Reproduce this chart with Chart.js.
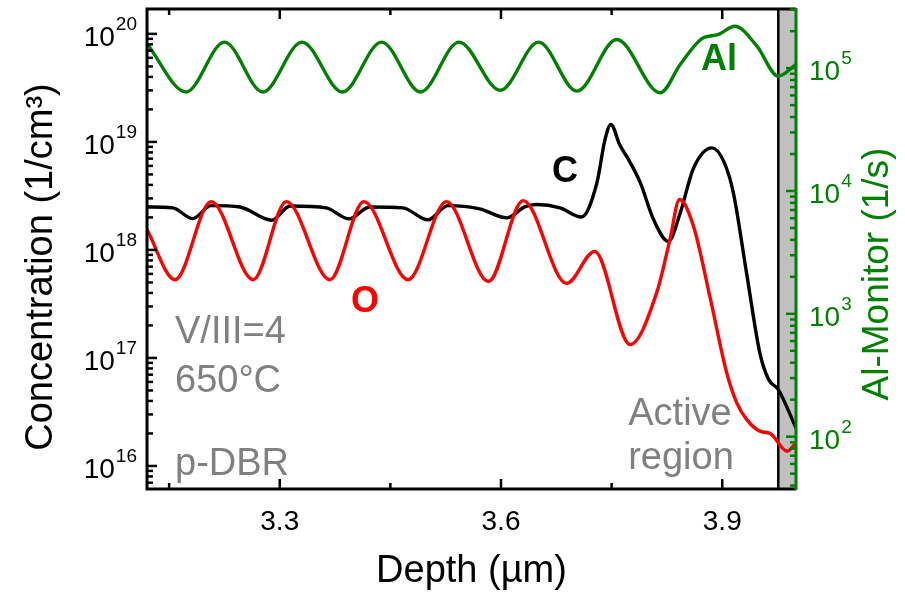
<!DOCTYPE html>
<html lang="en">
<head>
<meta charset="UTF-8">
<title>SIMS depth profile p-DBR</title>
<script src="https://cdn.jsdelivr.net/npm/chart.js@4"></script>
<style>
  body { margin: 0; background: #fff; }
  canvas { display: block; }
</style>
</head>
<body>
<canvas id="sims" width="905" height="592"></canvas>
<script>
const FONT = '"Liberation Sans", Arial, sans-serif';
const GREEN = '#008000';
const GRAY = '#808080';

// depth in µm
const alDepth = [3.12, 3.173, 3.225, 3.277, 3.330, 3.385, 3.438, 3.491, 3.543, 3.599, 3.651, 3.703,
                 3.757, 3.816, 3.843, 3.872, 3.895, 3.917, 3.947, 3.976, 4.0];
const alCounts = [1.58e5, 6.4e4, 1.63e5, 6.4e4, 1.63e5, 6.4e4, 1.63e5, 6.4e4, 1.63e5, 6.6e4, 1.63e5, 6.5e4,
                  1.71e5, 6.3e4, 1.07e5, 1.73e5, 1.88e5, 2.19e5, 1.51e5, 8.6e4, 1.07e5];

const cDepth = [3.12, 3.155, 3.182, 3.207, 3.246, 3.289, 3.314, 3.363, 3.394, 3.422, 3.467, 3.501,
                3.528, 3.571, 3.608, 3.632, 3.648, 3.680, 3.709, 3.730, 3.741, 3.749, 3.761, 3.773,
                3.789, 3.807, 3.827, 3.843, 3.861, 3.886, 3.902, 3.915, 3.933, 3.951, 3.963, 3.976, 4.0];
const cConc = [2.5e18, 2.45e18, 1.95e18, 2.57e18, 2.5e18, 1.88e18, 2.55e18, 2.45e18, 1.94e18, 2.5e18, 2.45e18, 1.9e18,
               2.57e18, 2.4e18, 1.98e18, 2.5e18, 2.63e18, 2.45e18, 2.02e18, 4.17e18, 1.05e19, 1.45e19, 9.4e18, 6.85e18,
               4.17e18, 1.9e18, 1.2e18, 2.2e18, 5.7e18, 8.8e18, 6.6e18, 3.4e18, 6.1e17, 1.11e17, 6.3e16, 5.1e16, 2.25e16];

const oDepth = [3.12, 3.158, 3.207, 3.264, 3.309, 3.368, 3.414, 3.474, 3.526, 3.583, 3.630, 3.689,
                3.727, 3.775, 3.811, 3.829, 3.842, 3.861, 3.884, 3.906, 3.920, 3.933, 3.951, 3.965,
                3.988, 4.0];
const oConc = [1.54e18, 5.3e17, 2.8e18, 5.3e17, 2.8e18, 5.3e17, 2.8e18, 5.3e17, 2.8e18, 5.1e17, 2.86e18, 4.9e17,
               9.7e17, 1.33e17, 4.0e17, 1.24e18, 2.93e18, 1.66e18, 3.5e17, 7.3e16, 3.8e16, 2.7e16, 2.1e16, 2.0e16,
               1.37e16, 1.63e16];

const xTicks = [3.3, 3.6, 3.9];
const xMinorTicks = [3.15, 3.45, 3.75];
const concExps = [16, 17, 18, 19, 20];
const alExps = [2, 3, 4, 5];
const activeFrom = 3.976;

const pts = (xs, ys) => xs.map((x, i) => ({ x: x, y: ys[i] }));

function logTicks(scale) {
  const out = [];
  const lo = Math.floor(Math.log10(scale.min));
  const hi = Math.ceil(Math.log10(scale.max));
  for (let e = lo; e <= hi; e++) {
    for (let k = 1; k <= 9; k++) {
      const v = k * Math.pow(10, e);
      if (v >= scale.min && v <= scale.max) out.push([v, k === 1]);
    }
  }
  return out;
}

function seg(ctx, x1, y1, x2, y2) {
  ctx.beginPath();
  ctx.moveTo(x1, y1);
  ctx.lineTo(x2, y2);
  ctx.stroke();
}

function powLabel(ctx, exp, x, yTick, align, color) {
  ctx.fillStyle = color;
  ctx.textAlign = 'left';
  ctx.textBaseline = 'alphabetic';
  ctx.font = '28px ' + FONT;
  const w10 = ctx.measureText('10').width;
  ctx.font = '19px ' + FONT;
  const we = ctx.measureText(String(exp)).width;
  const left = align === 'right' ? x - w10 - we - 1 : x;
  ctx.font = '28px ' + FONT;
  ctx.fillText('10', left, yTick + 12);
  ctx.font = '19px ' + FONT;
  ctx.fillText(String(exp), left + w10 + 1, yTick - 4);
}

function text(ctx, str, x, y, font, color, align) {
  ctx.font = font;
  ctx.fillStyle = color;
  ctx.textAlign = align || 'left';
  ctx.textBaseline = 'alphabetic';
  ctx.fillText(str, x, y);
}

const framePlugin = {
  id: 'framePlugin',
  beforeDatasetsDraw(chart) {
    const { ctx, chartArea: a, scales } = chart;
    const bx = scales.x.getPixelForValue(activeFrom);
    ctx.save();
    ctx.fillStyle = '#c0c0c0';
    ctx.fillRect(bx, a.top, a.right - bx, a.bottom - a.top);
    ctx.strokeStyle = '#000';
    ctx.lineWidth = 2.5;
    seg(ctx, bx, a.top, bx, a.bottom);
    ctx.restore();
  },
  afterDatasetsDraw(chart) {
    const { ctx, chartArea: a, scales } = chart;
    const x = scales.x, y = scales.y, y2 = scales.y2;
    ctx.save();
    ctx.lineCap = 'butt';
    ctx.lineWidth = 2.5;
    ctx.strokeStyle = '#000';

    // depth ticks, bottom and top, pointing inside
    xTicks.forEach(v => {
      const px = x.getPixelForValue(v);
      seg(ctx, px, a.bottom, px, a.bottom - 10);
      seg(ctx, px, a.top, px, a.top + 10);
    });
    xMinorTicks.forEach(v => {
      const px = x.getPixelForValue(v);
      seg(ctx, px, a.bottom, px, a.bottom - 6);
      seg(ctx, px, a.top, px, a.top + 6);
    });

    // concentration ticks on the left
    logTicks(y).forEach(([v, major]) => {
      const py = y.getPixelForValue(v);
      seg(ctx, a.left, py, a.left + (major ? 10 : 6), py);
    });

    // frame
    ctx.lineWidth = 3;
    ctx.lineJoin = 'miter';
    ctx.beginPath();
    ctx.moveTo(a.right, a.top);
    ctx.lineTo(a.left, a.top);
    ctx.lineTo(a.left, a.bottom);
    ctx.lineTo(a.right, a.bottom);
    ctx.stroke();

    // Al-monitor axis in green
    ctx.strokeStyle = GREEN;
    ctx.lineWidth = 2.5;
    logTicks(y2).forEach(([v, major]) => {
      const py = y2.getPixelForValue(v);
      seg(ctx, a.right, py, a.right - (major ? 10 : 6), py);
    });
    ctx.lineWidth = 3;
    seg(ctx, a.right, a.top - 1, a.right, a.bottom + 1);

    // tick labels
    xTicks.forEach(v => {
      text(ctx, v.toFixed(1), x.getPixelForValue(v), 530, '28px ' + FONT, '#000', 'center');
    });
    concExps.forEach(e => powLabel(ctx, e, 137, y.getPixelForValue(Math.pow(10, e)), 'right', '#000'));
    alExps.forEach(e => powLabel(ctx, e, 809, y2.getPixelForValue(Math.pow(10, e)), 'left', GREEN));

    // axis titles
    text(ctx, 'Depth (µm)', (a.left + a.right) / 2, 582, '38px ' + FONT, '#000', 'center');
    ctx.save();
    ctx.translate(42, 267);
    ctx.rotate(-Math.PI / 2);
    ctx.textBaseline = 'middle';
    ctx.font = '38px ' + FONT;
    ctx.fillStyle = '#000';
    ctx.textAlign = 'center';
    ctx.fillText('Concentration (1/cm³)', 0, 0);
    ctx.restore();
    ctx.save();
    ctx.translate(878, 274);
    ctx.rotate(-Math.PI / 2);
    ctx.textBaseline = 'middle';
    ctx.font = '37px ' + FONT;
    ctx.fillStyle = GREEN;
    ctx.textAlign = 'center';
    ctx.fillText('Al-Monitor (1/s)', 0, 0);
    ctx.restore();

    // annotations
    const g = '38px ' + FONT;
    text(ctx, 'V/III=4', 175, 343, g, GRAY);
    text(ctx, '650°C', 175, 392, g, GRAY);
    text(ctx, 'p-DBR', 175, 475, g, GRAY);
    text(ctx, 'Active', 680, 425, g, GRAY, 'center');
    text(ctx, 'region', 681, 469, g, GRAY, 'center');

    const b = 'bold 36px ' + FONT;
    text(ctx, 'Al', 719, 70, b, GREEN, 'center');
    text(ctx, 'C', 565, 182, b, '#000', 'center');
    text(ctx, 'O', 365, 312, b, '#ff0000', 'center');
    ctx.restore();
  }
};

new Chart(document.getElementById('sims'), {
  type: 'line',
  data: {
    datasets: [
      { label: 'O', data: pts(oDepth, oConc), borderColor: '#ff0000', yAxisID: 'y' },
      { label: 'C', data: pts(cDepth, cConc), borderColor: '#000000', yAxisID: 'y' },
      { label: 'Al', data: pts(alDepth, alCounts), borderColor: GREEN, yAxisID: 'y2' }
    ]
  },
  options: {
    responsive: false,
    devicePixelRatio: 1,
    animation: false,
    layout: { padding: { left: 147, right: 109, top: 9, bottom: 103 } },
    elements: {
      line: { borderWidth: 3.4, cubicInterpolationMode: 'monotone', fill: false },
      point: { radius: 0 }
    },
    plugins: { legend: { display: false }, tooltip: { enabled: false } },
    scales: {
      x: { type: 'linear', min: 3.12, max: 4.0, display: false },
      y: { type: 'logarithmic', min: 6.12e15, max: 1.70e20, display: false },
      y2: { type: 'logarithmic', min: 37.5, max: 3.03e5, display: false }
    }
  },
  plugins: [framePlugin]
});
</script>
</body>
</html>
